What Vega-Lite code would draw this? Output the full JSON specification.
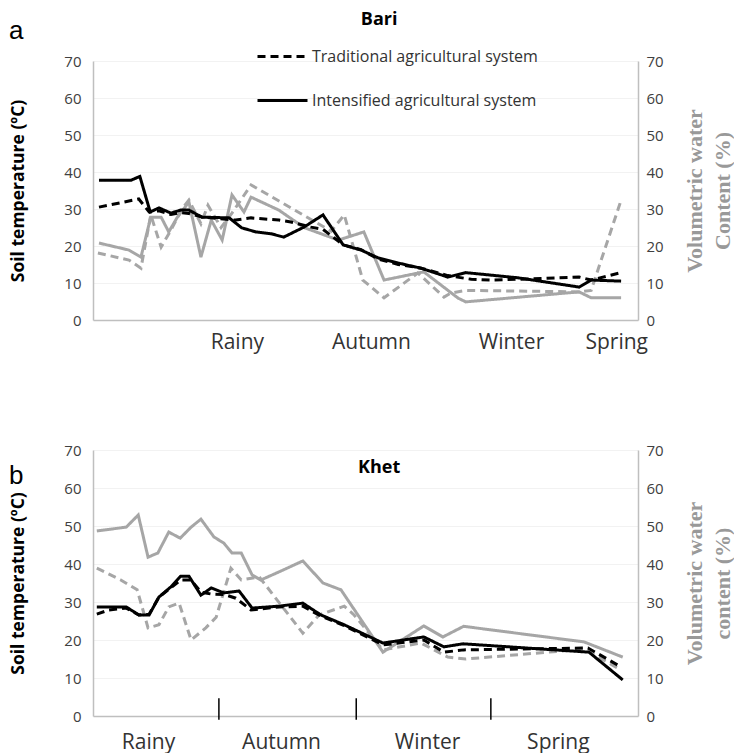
{
"$schema": "https://vega.github.io/schema/vega-lite/v6.json",
"background": "white",
"padding": {"left": 8, "top": 11, "right": 0, "bottom": 4},
"bounds": "flush",
"spacing": 130,
"config": {"view": {"stroke": null}},
"datasets": {
"lines": [
{"p":"Bari","m":"T","s":"Int","x":1.1,"v":37.8},{"p":"Bari","m":"T","s":"Int","x":7.0,"v":37.8},{"p":"Bari","m":"T","s":"Int","x":8.6,"v":38.8},{"p":"Bari","m":"T","s":"Int","x":10.5,"v":29.2},{"p":"Bari","m":"T","s":"Int","x":12.1,"v":30.3},{"p":"Bari","m":"T","s":"Int","x":14.3,"v":28.9},{"p":"Bari","m":"T","s":"Int","x":16.1,"v":29.7},{"p":"Bari","m":"T","s":"Int","x":17.6,"v":29.7},{"p":"Bari","m":"T","s":"Int","x":20.0,"v":27.8},{"p":"Bari","m":"T","s":"Int","x":25.0,"v":27.6},{"p":"Bari","m":"T","s":"Int","x":27.3,"v":24.9},{"p":"Bari","m":"T","s":"Int","x":29.9,"v":23.8},{"p":"Bari","m":"T","s":"Int","x":32.7,"v":23.3},{"p":"Bari","m":"T","s":"Int","x":35.0,"v":22.4},{"p":"Bari","m":"T","s":"Int","x":38.7,"v":25.1},{"p":"Bari","m":"T","s":"Int","x":42.2,"v":28.4},{"p":"Bari","m":"T","s":"Int","x":45.9,"v":20.3},{"p":"Bari","m":"T","s":"Int","x":49.2,"v":18.9},{"p":"Bari","m":"T","s":"Int","x":52.3,"v":16.8},{"p":"Bari","m":"T","s":"Int","x":56.0,"v":15.4},{"p":"Bari","m":"T","s":"Int","x":60.2,"v":14.0},{"p":"Bari","m":"T","s":"Int","x":65.1,"v":11.6},{"p":"Bari","m":"T","s":"Int","x":68.4,"v":12.8},{"p":"Bari","m":"T","s":"Int","x":78.0,"v":11.4},{"p":"Bari","m":"T","s":"Int","x":89.2,"v":8.9},{"p":"Bari","m":"T","s":"Int","x":91.4,"v":10.8},{"p":"Bari","m":"T","s":"Int","x":96.9,"v":10.5},
{"p":"Bari","m":"T","s":"Trad","x":1.1,"v":30.5},{"p":"Bari","m":"T","s":"Trad","x":8.4,"v":32.7},{"p":"Bari","m":"T","s":"Trad","x":10.3,"v":29.2},{"p":"Bari","m":"T","s":"Trad","x":12.1,"v":29.5},{"p":"Bari","m":"T","s":"Trad","x":14.3,"v":28.5},{"p":"Bari","m":"T","s":"Trad","x":16.1,"v":29.0},{"p":"Bari","m":"T","s":"Trad","x":17.6,"v":28.8},{"p":"Bari","m":"T","s":"Trad","x":20.0,"v":27.8},{"p":"Bari","m":"T","s":"Trad","x":26.2,"v":27.0},{"p":"Bari","m":"T","s":"Trad","x":29.0,"v":27.6},{"p":"Bari","m":"T","s":"Trad","x":34.1,"v":27.0},{"p":"Bari","m":"T","s":"Trad","x":36.3,"v":26.5},{"p":"Bari","m":"T","s":"Trad","x":40.0,"v":25.1},{"p":"Bari","m":"T","s":"Trad","x":42.2,"v":24.5},{"p":"Bari","m":"T","s":"Trad","x":45.9,"v":20.3},{"p":"Bari","m":"T","s":"Trad","x":49.2,"v":19.0},{"p":"Bari","m":"T","s":"Trad","x":52.3,"v":16.5},{"p":"Bari","m":"T","s":"Trad","x":56.0,"v":15.0},{"p":"Bari","m":"T","s":"Trad","x":60.2,"v":14.0},{"p":"Bari","m":"T","s":"Trad","x":65.1,"v":12.0},{"p":"Bari","m":"T","s":"Trad","x":69.4,"v":11.0},{"p":"Bari","m":"T","s":"Trad","x":73.0,"v":10.8},{"p":"Bari","m":"T","s":"Trad","x":82.2,"v":11.2},{"p":"Bari","m":"T","s":"Trad","x":89.2,"v":11.6},{"p":"Bari","m":"T","s":"Trad","x":91.4,"v":10.8},{"p":"Bari","m":"T","s":"Trad","x":96.9,"v":12.8},
{"p":"Bari","m":"W","s":"Int","x":1.1,"v":20.8},{"p":"Bari","m":"W","s":"Int","x":6.6,"v":18.9},{"p":"Bari","m":"W","s":"Int","x":8.8,"v":17.0},{"p":"Bari","m":"W","s":"Int","x":10.6,"v":27.8},{"p":"Bari","m":"W","s":"Int","x":12.5,"v":27.8},{"p":"Bari","m":"W","s":"Int","x":13.9,"v":23.8},{"p":"Bari","m":"W","s":"Int","x":15.4,"v":27.6},{"p":"Bari","m":"W","s":"Int","x":17.6,"v":31.9},{"p":"Bari","m":"W","s":"Int","x":19.8,"v":17.0},{"p":"Bari","m":"W","s":"Int","x":21.7,"v":27.0},{"p":"Bari","m":"W","s":"Int","x":23.7,"v":21.6},{"p":"Bari","m":"W","s":"Int","x":25.5,"v":33.8},{"p":"Bari","m":"W","s":"Int","x":27.7,"v":29.2},{"p":"Bari","m":"W","s":"Int","x":29.0,"v":33.2},{"p":"Bari","m":"W","s":"Int","x":34.1,"v":29.7},{"p":"Bari","m":"W","s":"Int","x":38.7,"v":25.0},{"p":"Bari","m":"W","s":"Int","x":45.0,"v":21.6},{"p":"Bari","m":"W","s":"Int","x":49.7,"v":23.8},{"p":"Bari","m":"W","s":"Int","x":53.4,"v":10.8},{"p":"Bari","m":"W","s":"Int","x":60.7,"v":13.0},{"p":"Bari","m":"W","s":"Int","x":67.0,"v":5.9},{"p":"Bari","m":"W","s":"Int","x":68.4,"v":4.9},{"p":"Bari","m":"W","s":"Int","x":89.2,"v":7.6},{"p":"Bari","m":"W","s":"Int","x":91.4,"v":6.0},{"p":"Bari","m":"W","s":"Int","x":96.9,"v":6.0},
{"p":"Bari","m":"W","s":"Trad","x":0.9,"v":18.1},{"p":"Bari","m":"W","s":"Trad","x":6.6,"v":16.2},{"p":"Bari","m":"W","s":"Trad","x":8.8,"v":14.0},{"p":"Bari","m":"W","s":"Trad","x":10.6,"v":28.4},{"p":"Bari","m":"W","s":"Trad","x":12.5,"v":19.7},{"p":"Bari","m":"W","s":"Trad","x":14.3,"v":24.3},{"p":"Bari","m":"W","s":"Trad","x":16.3,"v":30.0},{"p":"Bari","m":"W","s":"Trad","x":17.6,"v":32.4},{"p":"Bari","m":"W","s":"Trad","x":19.8,"v":26.0},{"p":"Bari","m":"W","s":"Trad","x":21.1,"v":31.0},{"p":"Bari","m":"W","s":"Trad","x":23.5,"v":25.0},{"p":"Bari","m":"W","s":"Trad","x":25.5,"v":28.9},{"p":"Bari","m":"W","s":"Trad","x":29.0,"v":36.5},{"p":"Bari","m":"W","s":"Trad","x":43.7,"v":24.0},{"p":"Bari","m":"W","s":"Trad","x":46.1,"v":28.4},{"p":"Bari","m":"W","s":"Trad","x":49.5,"v":10.8},{"p":"Bari","m":"W","s":"Trad","x":53.4,"v":6.0},{"p":"Bari","m":"W","s":"Trad","x":59.6,"v":12.7},{"p":"Bari","m":"W","s":"Trad","x":64.4,"v":6.2},{"p":"Bari","m":"W","s":"Trad","x":65.7,"v":7.3},{"p":"Bari","m":"W","s":"Trad","x":68.4,"v":8.0},{"p":"Bari","m":"W","s":"Trad","x":89.2,"v":7.6},{"p":"Bari","m":"W","s":"Trad","x":91.4,"v":8.0},{"p":"Bari","m":"W","s":"Trad","x":96.9,"v":32.4},
{"p":"Khet","m":"T","s":"Int","x":0.7,"v":28.7},{"p":"Khet","m":"T","s":"Int","x":6.1,"v":28.7},{"p":"Khet","m":"T","s":"Int","x":8.4,"v":26.6},{"p":"Khet","m":"T","s":"Int","x":10.3,"v":26.6},{"p":"Khet","m":"T","s":"Int","x":12.1,"v":31.3},{"p":"Khet","m":"T","s":"Int","x":14.3,"v":34.0},{"p":"Khet","m":"T","s":"Int","x":16.1,"v":36.8},{"p":"Khet","m":"T","s":"Int","x":17.6,"v":36.8},{"p":"Khet","m":"T","s":"Int","x":19.8,"v":31.8},{"p":"Khet","m":"T","s":"Int","x":21.7,"v":33.7},{"p":"Khet","m":"T","s":"Int","x":24.0,"v":32.4},{"p":"Khet","m":"T","s":"Int","x":26.8,"v":32.9},{"p":"Khet","m":"T","s":"Int","x":29.2,"v":28.4},{"p":"Khet","m":"T","s":"Int","x":34.1,"v":28.9},{"p":"Khet","m":"T","s":"Int","x":38.5,"v":29.7},{"p":"Khet","m":"T","s":"Int","x":41.8,"v":26.6},{"p":"Khet","m":"T","s":"Int","x":46.1,"v":24.0},{"p":"Khet","m":"T","s":"Int","x":53.2,"v":19.2},{"p":"Khet","m":"T","s":"Int","x":60.7,"v":20.8},{"p":"Khet","m":"T","s":"Int","x":64.4,"v":18.2},{"p":"Khet","m":"T","s":"Int","x":67.9,"v":19.0},{"p":"Khet","m":"T","s":"Int","x":91.0,"v":16.8},{"p":"Khet","m":"T","s":"Int","x":97.2,"v":9.5},
{"p":"Khet","m":"T","s":"Trad","x":0.7,"v":26.8},{"p":"Khet","m":"T","s":"Trad","x":2.9,"v":27.9},{"p":"Khet","m":"T","s":"Trad","x":6.1,"v":28.4},{"p":"Khet","m":"T","s":"Trad","x":8.4,"v":26.6},{"p":"Khet","m":"T","s":"Trad","x":10.3,"v":26.8},{"p":"Khet","m":"T","s":"Trad","x":12.1,"v":31.3},{"p":"Khet","m":"T","s":"Trad","x":14.5,"v":34.0},{"p":"Khet","m":"T","s":"Trad","x":16.1,"v":35.8},{"p":"Khet","m":"T","s":"Trad","x":18.0,"v":35.8},{"p":"Khet","m":"T","s":"Trad","x":19.8,"v":32.6},{"p":"Khet","m":"T","s":"Trad","x":21.7,"v":32.1},{"p":"Khet","m":"T","s":"Trad","x":24.0,"v":32.0},{"p":"Khet","m":"T","s":"Trad","x":26.2,"v":31.0},{"p":"Khet","m":"T","s":"Trad","x":29.0,"v":27.9},{"p":"Khet","m":"T","s":"Trad","x":34.1,"v":28.7},{"p":"Khet","m":"T","s":"Trad","x":38.5,"v":28.9},{"p":"Khet","m":"T","s":"Trad","x":41.8,"v":26.3},{"p":"Khet","m":"T","s":"Trad","x":46.1,"v":23.8},{"p":"Khet","m":"T","s":"Trad","x":53.2,"v":18.7},{"p":"Khet","m":"T","s":"Trad","x":60.7,"v":20.0},{"p":"Khet","m":"T","s":"Trad","x":64.4,"v":16.8},{"p":"Khet","m":"T","s":"Trad","x":68.0,"v":17.4},{"p":"Khet","m":"T","s":"Trad","x":90.8,"v":17.9},{"p":"Khet","m":"T","s":"Trad","x":96.9,"v":12.9},
{"p":"Khet","m":"W","s":"Int","x":0.7,"v":48.7},{"p":"Khet","m":"W","s":"Int","x":6.1,"v":49.7},{"p":"Khet","m":"W","s":"Int","x":8.3,"v":52.9},{"p":"Khet","m":"W","s":"Int","x":10.1,"v":41.8},{"p":"Khet","m":"W","s":"Int","x":11.9,"v":42.9},{"p":"Khet","m":"W","s":"Int","x":13.9,"v":48.4},{"p":"Khet","m":"W","s":"Int","x":16.0,"v":46.8},{"p":"Khet","m":"W","s":"Int","x":18.0,"v":49.7},{"p":"Khet","m":"W","s":"Int","x":19.8,"v":51.8},{"p":"Khet","m":"W","s":"Int","x":22.2,"v":47.1},{"p":"Khet","m":"W","s":"Int","x":24.0,"v":45.5},{"p":"Khet","m":"W","s":"Int","x":25.5,"v":42.9},{"p":"Khet","m":"W","s":"Int","x":27.2,"v":42.9},{"p":"Khet","m":"W","s":"Int","x":29.2,"v":37.1},{"p":"Khet","m":"W","s":"Int","x":30.8,"v":35.8},{"p":"Khet","m":"W","s":"Int","x":34.1,"v":37.9},{"p":"Khet","m":"W","s":"Int","x":38.5,"v":40.8},{"p":"Khet","m":"W","s":"Int","x":42.2,"v":35.0},{"p":"Khet","m":"W","s":"Int","x":45.5,"v":33.2},{"p":"Khet","m":"W","s":"Int","x":53.2,"v":16.8},{"p":"Khet","m":"W","s":"Int","x":60.7,"v":23.7},{"p":"Khet","m":"W","s":"Int","x":64.2,"v":20.8},{"p":"Khet","m":"W","s":"Int","x":68.0,"v":23.6},{"p":"Khet","m":"W","s":"Int","x":90.1,"v":19.5},{"p":"Khet","m":"W","s":"Int","x":97.2,"v":15.5},
{"p":"Khet","m":"W","s":"Trad","x":0.7,"v":38.9},{"p":"Khet","m":"W","s":"Trad","x":5.1,"v":35.8},{"p":"Khet","m":"W","s":"Trad","x":8.1,"v":33.2},{"p":"Khet","m":"W","s":"Trad","x":10.1,"v":23.2},{"p":"Khet","m":"W","s":"Trad","x":12.1,"v":24.0},{"p":"Khet","m":"W","s":"Trad","x":13.9,"v":28.7},{"p":"Khet","m":"W","s":"Trad","x":15.8,"v":29.7},{"p":"Khet","m":"W","s":"Trad","x":18.0,"v":20.0},{"p":"Khet","m":"W","s":"Trad","x":20.7,"v":23.2},{"p":"Khet","m":"W","s":"Trad","x":22.6,"v":26.0},{"p":"Khet","m":"W","s":"Trad","x":25.3,"v":38.9},{"p":"Khet","m":"W","s":"Trad","x":27.2,"v":35.8},{"p":"Khet","m":"W","s":"Trad","x":30.5,"v":36.6},{"p":"Khet","m":"W","s":"Trad","x":38.5,"v":21.8},{"p":"Khet","m":"W","s":"Trad","x":41.5,"v":26.6},{"p":"Khet","m":"W","s":"Trad","x":46.1,"v":28.9},{"p":"Khet","m":"W","s":"Trad","x":47.9,"v":26.6},{"p":"Khet","m":"W","s":"Trad","x":53.2,"v":17.4},{"p":"Khet","m":"W","s":"Trad","x":60.2,"v":19.2},{"p":"Khet","m":"W","s":"Trad","x":65.1,"v":15.5},{"p":"Khet","m":"W","s":"Trad","x":68.4,"v":15.0},{"p":"Khet","m":"W","s":"Trad","x":90.1,"v":17.6},{"p":"Khet","m":"W","s":"Trad","x":96.9,"v":12.1}
],
"notes": [
{"p":"Bari","k":"panel","t":"a","x":-14.1,"v":78.0},
{"p":"Bari","k":"title","t":"Bari","x":52.5,"v":81.0},
{"p":"Khet","k":"panel","t":"b","x":-14.1,"v":63.2},
{"p":"Khet","k":"title","t":"Khet","x":52.5,"v":65.2},
{"p":"Khet","k":"tick","t":"","x":23.1,"v":-1,"v2":4.7},
{"p":"Khet","k":"tick","t":"","x":48.3,"v":-1,"v2":4.7},
{"p":"Khet","k":"tick","t":"","x":73.0,"v":-1,"v2":4.7}
]
},
"vconcat": [
{
"width": 545, "height": 259,
"encoding": {"x": {"field": "x", "type": "quantitative", "scale": {"domain": [0, 100], "nice": false, "zero": false},
 "axis": {"title": null, "values": [26.4, 51, 76.7, 96.0], "labelExpr": "datum.value < 30 ? 'Rainy' : datum.value < 60 ? 'Autumn' : datum.value < 80 ? 'Winter' : 'Spring'", "ticks": false, "grid": false, "domainColor": "#bfbfbf", "domainWidth": 1.5, "labelFont": "Open Sans", "labelFontSize": 21, "labelColor": "#333333", "labelPadding": 11, "labelOverlap": false, "labelFlush": false}}},
"layer": [
{"data": {"name": "lines"}, "transform": [{"filter": "datum.p == 'Bari' && datum.m == 'W'"}],
 "mark": {"type": "line", "color": "#a6a6a6", "strokeWidth": 3},
 "encoding": {
  "y": {"field": "v", "type": "quantitative", "scale": {"domain": [0, 70], "nice": false},
   "axis": {"orient": "right", "values": [0,10,20,30,40,50,60,70], "ticks": false, "grid": false, "domainColor": "#bfbfbf", "domainWidth": 1.5, "labelFont": "Open Sans", "labelFontSize": 15, "labelColor": "#404040", "labelPadding": 8,
    "title": ["Volumetric water", "Content (%)"], "titleAngle": 270, "titleFont": "Liberation Serif", "titleFontWeight": "bold", "titleFontSize": 22, "titleColor": "#999999", "titlePadding": 15, "titleLineHeight": 28}},
  "strokeDash": {"field": "s", "type": "nominal", "scale": {"domain": ["Trad", "Int"], "range": [[8, 5], [1, 0]]},
   "legend": {"orient": "none", "legendX": 163, "legendY": -31, "title": null, "direction": "vertical", "symbolType": "stroke", "symbolStrokeColor": "black", "symbolStrokeWidth": 3, "symbolSize": 2500, "labelFont": "Open Sans", "labelFontSize": 16, "labelColor": "#333333", "labelLimit": 500, "rowPadding": 9, "labelOffset": 3, "labelExpr": "datum.label == 'Trad' ? 'Traditional agricultural system' : 'Intensified agricultural system'",
    "encode": {"symbols": {"update": {"stroke": {"value": "black"}, "strokeWidth": {"value": 3}}}}}}
 }},
{"data": {"name": "lines"}, "transform": [{"filter": "datum.p == 'Bari' && datum.m == 'T'"}],
 "mark": {"type": "line", "color": "black", "strokeWidth": 3},
 "encoding": {
  "y": {"field": "v", "type": "quantitative", "scale": {"domain": [0, 70], "nice": false},
   "axis": {"orient": "left", "values": [0,10,20,30,40,50,60,70], "ticks": false, "grid": true, "gridColor": "#f2f2f2", "domainColor": "#bfbfbf", "domainWidth": 1.5, "labelFont": "Open Sans", "labelFontSize": 15, "labelColor": "#404040", "labelPadding": 12,
    "title": "Soil temperature (ºC)", "titleFont": "Open Sans", "titleFontWeight": "bold", "titleFontSize": 17.5, "titleColor": "black", "titlePadding": 36}},
  "strokeDash": {"field": "s", "type": "nominal", "scale": {"domain": ["Trad", "Int"], "range": [[8, 5], [1, 0]]}}
 }},
{"data": {"name": "notes"}, "transform": [{"filter": "datum.p == 'Bari' && datum.k == 'panel'"}],
 "mark": {"type": "text", "font": "Liberation Sans", "fontSize": 26, "color": "black", "align": "center", "baseline": "middle"},
 "encoding": {"y": {"field": "v", "type": "quantitative", "scale": {"domain": [0, 70], "nice": false}, "axis": null}, "text": {"field": "t"}}},
{"data": {"name": "notes"}, "transform": [{"filter": "datum.p == 'Bari' && datum.k == 'title'"}],
 "mark": {"type": "text", "font": "Open Sans", "fontSize": 18, "fontWeight": "bold", "color": "black", "align": "center", "baseline": "middle"},
 "encoding": {"y": {"field": "v", "type": "quantitative", "scale": {"domain": [0, 70], "nice": false}, "axis": null}, "text": {"field": "t"}}}
],
"resolve": {"scale": {"y": "independent"}}
},
{
"width": 545, "height": 266,
"encoding": {"x": {"field": "x", "type": "quantitative", "scale": {"domain": [0, 100], "nice": false, "zero": false},
 "axis": {"title": null, "values": [10.1, 34.5, 61.3, 85.3], "labelExpr": "datum.value < 20 ? 'Rainy' : datum.value < 50 ? 'Autumn' : datum.value < 70 ? 'Winter' : 'Spring'", "ticks": false, "grid": false, "domainColor": "#bfbfbf", "domainWidth": 1.5, "labelFont": "Open Sans", "labelFontSize": 21, "labelColor": "#333333", "labelPadding": 15, "labelOverlap": false, "labelFlush": false}}},
"layer": [
{"data": {"name": "lines"}, "transform": [{"filter": "datum.p == 'Khet' && datum.m == 'W'"}],
 "mark": {"type": "line", "color": "#a6a6a6", "strokeWidth": 3},
 "encoding": {
  "y": {"field": "v", "type": "quantitative", "scale": {"domain": [0, 70], "nice": false},
   "axis": {"orient": "right", "values": [0,10,20,30,40,50,60,70], "ticks": false, "grid": false, "domainColor": "#bfbfbf", "domainWidth": 1.5, "labelFont": "Open Sans", "labelFontSize": 15, "labelColor": "#404040", "labelPadding": 8,
    "title": ["Volumetric water", "content (%)"], "titleAngle": 270, "titleFont": "Liberation Serif", "titleFontWeight": "bold", "titleFontSize": 22, "titleColor": "#999999", "titlePadding": 15, "titleLineHeight": 28}},
  "strokeDash": {"field": "s", "type": "nominal", "scale": {"domain": ["Trad", "Int"], "range": [[8, 5], [1, 0]]}, "legend": null}
 }},
{"data": {"name": "lines"}, "transform": [{"filter": "datum.p == 'Khet' && datum.m == 'T'"}],
 "mark": {"type": "line", "color": "black", "strokeWidth": 3},
 "encoding": {
  "y": {"field": "v", "type": "quantitative", "scale": {"domain": [0, 70], "nice": false},
   "axis": {"orient": "left", "values": [0,10,20,30,40,50,60,70], "ticks": false, "grid": true, "gridColor": "#f2f2f2", "domainColor": "#bfbfbf", "domainWidth": 1.5, "labelFont": "Open Sans", "labelFontSize": 15, "labelColor": "#404040", "labelPadding": 12,
    "title": "Soil temperature (ºC)", "titleFont": "Open Sans", "titleFontWeight": "bold", "titleFontSize": 17.5, "titleColor": "black", "titlePadding": 36}},
  "strokeDash": {"field": "s", "type": "nominal", "scale": {"domain": ["Trad", "Int"], "range": [[8, 5], [1, 0]]}, "legend": null}
 }},
{"data": {"name": "notes"}, "transform": [{"filter": "datum.p == 'Khet' && datum.k == 'tick'"}],
 "mark": {"type": "rule", "color": "black", "strokeWidth": 1.5},
 "encoding": {"y": {"field": "v", "type": "quantitative", "scale": {"domain": [0, 70], "nice": false}, "axis": null}, "y2": {"field": "v2"}}},
{"data": {"name": "notes"}, "transform": [{"filter": "datum.p == 'Khet' && datum.k == 'panel'"}],
 "mark": {"type": "text", "font": "Liberation Sans", "fontSize": 26, "color": "black", "align": "center", "baseline": "middle"},
 "encoding": {"y": {"field": "v", "type": "quantitative", "scale": {"domain": [0, 70], "nice": false}, "axis": null}, "text": {"field": "t"}}},
{"data": {"name": "notes"}, "transform": [{"filter": "datum.p == 'Khet' && datum.k == 'title'"}],
 "mark": {"type": "text", "font": "Open Sans", "fontSize": 18, "fontWeight": "bold", "color": "black", "align": "center", "baseline": "middle"},
 "encoding": {"y": {"field": "v", "type": "quantitative", "scale": {"domain": [0, 70], "nice": false}, "axis": null}, "text": {"field": "t"}}}
],
"resolve": {"scale": {"y": "independent"}}
}
],
"resolve": {"scale": {"strokeDash": "independent"}, "legend": {"strokeDash": "independent"}}
}
